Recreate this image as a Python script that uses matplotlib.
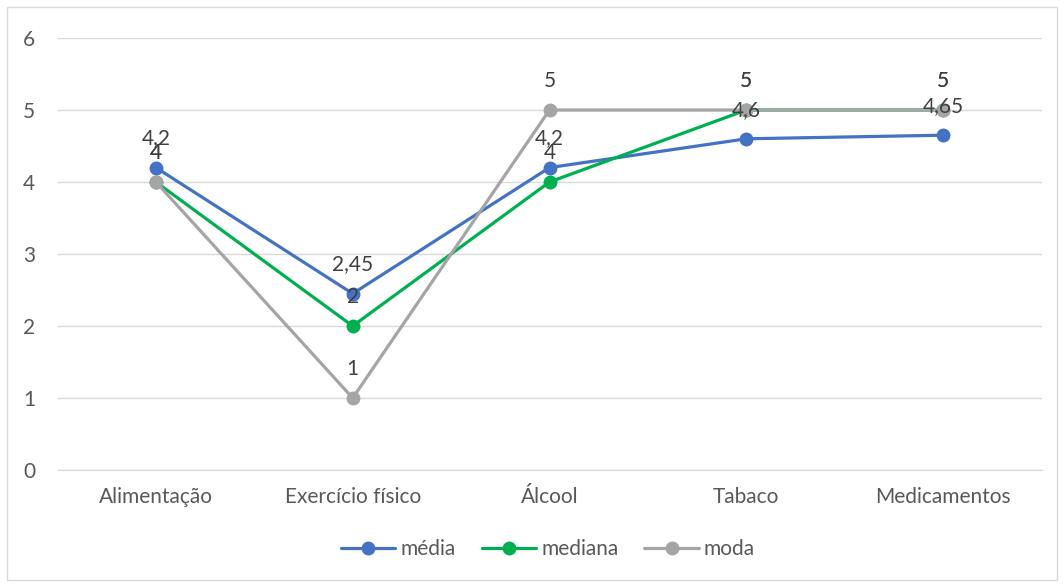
import matplotlib
matplotlib.use("Agg")
import matplotlib.pyplot as plt
from matplotlib.patches import Rectangle

categories = ["Alimentação", "Exercício físico", "Álcool", "Tabaco", "Medicamentos"]
media = [4.2, 2.45, 4.2, 4.6, 4.65]
mediana = [4, 2, 4, 5, 5]
moda = [4, 1, 5, 5, 5]

series = [
    ("média", media, "#4472C4"),
    ("mediana", mediana, "#00B050"),
    ("moda", moda, "#A5A5A5"),
]

plt.rcParams["font.family"] = ["Lato", "DejaVu Sans"]

fig = plt.figure(figsize=(10.64, 5.86), dpi=100)
ax = fig.add_axes([57.5 / 1064, 1 - 470 / 586, (1041.5 - 57.5) / 1064, (470 - 38) / 586])

x = list(range(len(categories)))
for name, vals, color in series:
    ax.plot(x, vals, color=color, lw=2.3, marker="o", markersize=9,
            label=name, solid_capstyle="round", zorder=3)

def fmt(v):
    s = f"{v:g}"
    return s.replace(".", ",")

for name, vals, color in series:
    for xi, v in zip(x, vals):
        ax.annotate(fmt(v), (xi, v), xytext=(0, 21), textcoords="offset points",
                    ha="center", va="center", fontsize=15, color="#404040", zorder=5)

ax.set_xlim(-0.5, len(categories) - 0.5)
ax.set_ylim(0, 6)
ax.set_yticks(range(0, 7))
ax.set_xticks(x)
ax.set_xticklabels(categories)
ax.grid(axis="y", color="#D9D9D9", lw=1)
ax.set_axisbelow(True)
for sp in ax.spines.values():
    sp.set_visible(False)
ax.spines["bottom"].set_visible(True)
ax.spines["bottom"].set_color("#D9D9D9")
ax.tick_params(axis="both", length=0, labelsize=15, colors="#595959")
ax.tick_params(axis="y", pad=16)
ax.tick_params(axis="x", pad=12)

leg = fig.legend(loc="center", bbox_to_anchor=(548 / 1064, 1 - 549 / 586), ncol=3,
                 frameon=False, fontsize=15, handlelength=2.6, handletextpad=0.25,
                 columnspacing=1.25, labelcolor="#595959")

fig.patches.append(Rectangle((7 / 1064, 1 - 580 / 586), 1050 / 1064, 573 / 586,
                             transform=fig.transFigure, fill=False,
                             edgecolor="#D9D9D9", lw=1))

fig.savefig("out.png", dpi=100, facecolor="white")
